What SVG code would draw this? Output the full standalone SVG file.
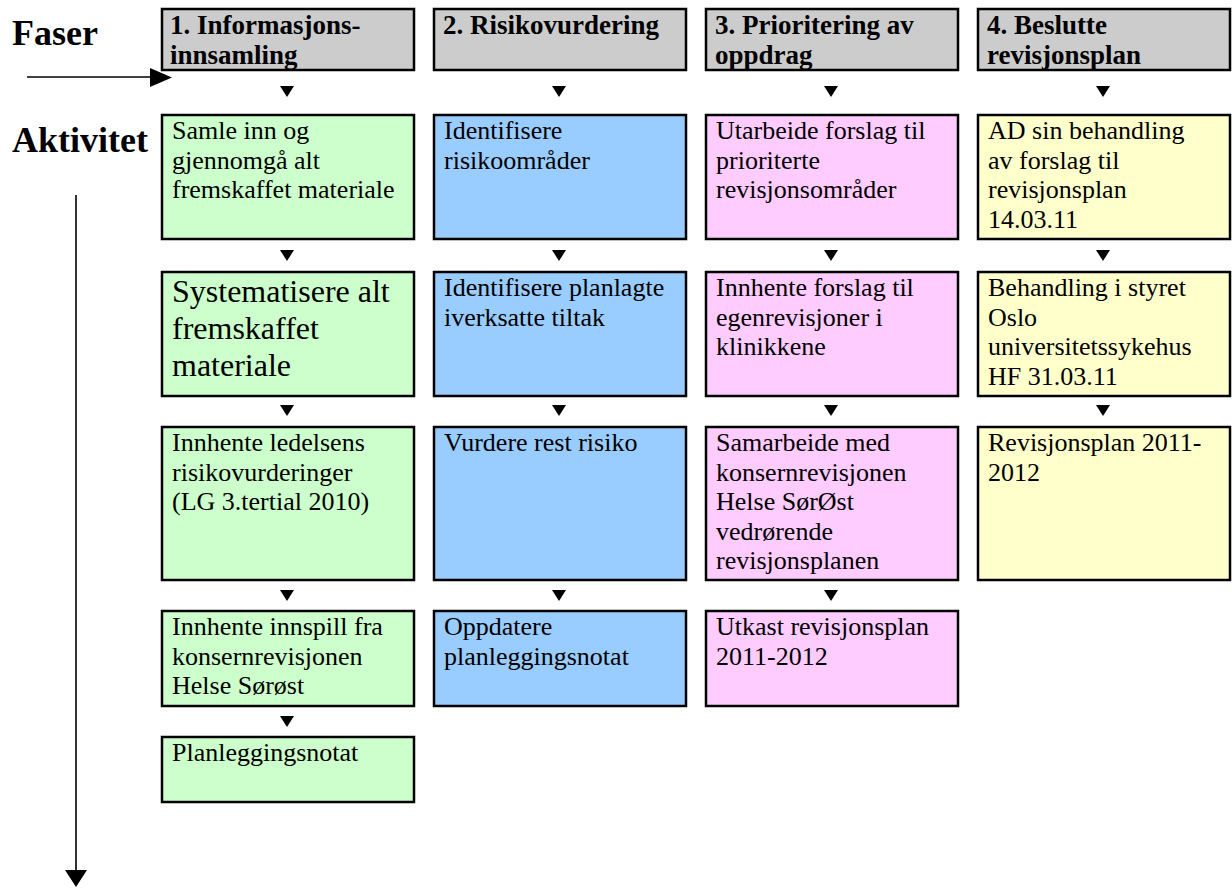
<svg xmlns="http://www.w3.org/2000/svg" width="1232" height="888" viewBox="0 0 1232 888">
<style>
.box{stroke:#000;stroke-width:2.5}
.hdr{fill:#cccccc}
.g{fill:#ccffcc}
.b{fill:#99ccff}
.p{fill:#ffccff}
.y{fill:#ffffcc}
text{font-family:"Liberation Serif","Times New Roman",serif;fill:#000}
.ht{font-size:27px;font-weight:bold}
.t{font-size:26px}
.big{font-size:32px}
.lab{font-size:36px;font-weight:bold}
.tri{fill:#000}
.ln{stroke:#000;stroke-width:1.6;fill:none}
</style>
<rect width="1232" height="888" fill="#fff"/>
<text class="lab" x="12" y="45">Faser</text>
<text class="lab" x="12" y="152">Aktivitet</text>

<g id="h1"><rect class="box hdr" x="162" y="9" width="252" height="61"/><text class="ht" x="170" y="34">1. Informasjons-</text><text class="ht" x="170" y="64">innsamling</text></g>
<g id="h2"><rect class="box hdr" x="434" y="9" width="252" height="61"/><text class="ht" x="443" y="34">2. Risikovurdering</text></g>
<g id="h3"><rect class="box hdr" x="706" y="9" width="252" height="61"/><text class="ht" x="715" y="34">3. Prioritering av</text><text class="ht" x="715" y="64">oppdrag</text></g>
<g id="h4"><rect class="box hdr" x="978" y="9" width="252" height="61"/><text class="ht" x="987" y="34">4. Beslutte</text><text class="ht" x="987" y="64">revisjonsplan</text></g>

<g id="a1"><rect class="box g" x="162" y="115" width="252" height="124"/><text class="t" x="172" y="139">Samle inn og</text><text class="t" x="172" y="168.5">gjennomgå alt</text><text class="t" x="172" y="198">fremskaffet materiale</text></g>
<g id="a2"><rect class="box g" x="162" y="272" width="252" height="124"/><text class="big" x="172" y="302">Systematisere alt</text><text class="big" x="172" y="339">fremskaffet</text><text class="big" x="172" y="376">materiale</text></g>
<g id="a3"><rect class="box g" x="162" y="427" width="252" height="153"/><text class="t" x="172" y="451">Innhente ledelsens</text><text class="t" x="172" y="480.5">risikovurderinger</text><text class="t" x="172" y="510">(LG 3.tertial 2010)</text></g>
<g id="a4"><rect class="box g" x="162" y="611" width="252" height="95"/><text class="t" x="172" y="635">Innhente innspill fra</text><text class="t" x="172" y="664.5">konsernrevisjonen</text><text class="t" x="172" y="694">Helse Sørøst</text></g>
<g id="a5"><rect class="box g" x="162" y="737" width="252" height="65"/><text class="t" x="172" y="761">Planleggingsnotat</text></g>

<g id="b1"><rect class="box b" x="434" y="115" width="252" height="124"/><text class="t" x="444" y="139">Identifisere</text><text class="t" x="444" y="168.5">risikoområder</text></g>
<g id="b2"><rect class="box b" x="434" y="272" width="252" height="124"/><text class="t" x="444" y="296">Identifisere planlagte</text><text class="t" x="444" y="325.5">iverksatte tiltak</text></g>
<g id="b3"><rect class="box b" x="434" y="427" width="252" height="153"/><text class="t" x="444" y="451">Vurdere rest risiko</text></g>
<g id="b4"><rect class="box b" x="434" y="611" width="252" height="95"/><text class="t" x="444" y="635">Oppdatere</text><text class="t" x="444" y="664.5">planleggingsnotat</text></g>

<g id="c1"><rect class="box p" x="706" y="115" width="252" height="124"/><text class="t" x="716" y="139">Utarbeide forslag til</text><text class="t" x="716" y="168.5">prioriterte</text><text class="t" x="716" y="198">revisjonsområder</text></g>
<g id="c2"><rect class="box p" x="706" y="272" width="252" height="124"/><text class="t" x="716" y="296">Innhente forslag til</text><text class="t" x="716" y="325.5">egenrevisjoner i</text><text class="t" x="716" y="355">klinikkene</text></g>
<g id="c3"><rect class="box p" x="706" y="427" width="252" height="153"/><text class="t" x="716" y="451">Samarbeide med</text><text class="t" x="716" y="480.5">konsernrevisjonen</text><text class="t" x="716" y="510">Helse SørØst</text><text class="t" x="716" y="539.5">vedrørende</text><text class="t" x="716" y="569">revisjonsplanen</text></g>
<g id="c4"><rect class="box p" x="706" y="611" width="252" height="95"/><text class="t" x="716" y="635">Utkast revisjonsplan</text><text class="t" x="716" y="664.5">2011-2012</text></g>

<g id="d1"><rect class="box y" x="978" y="115" width="252" height="124"/><text class="t" x="988" y="139">AD sin behandling</text><text class="t" x="988" y="168.5">av forslag til</text><text class="t" x="988" y="198">revisjonsplan</text><text class="t" x="988" y="227.5">14.03.11</text></g>
<g id="d2"><rect class="box y" x="978" y="272" width="252" height="124"/><text class="t" x="988" y="296">Behandling i styret</text><text class="t" x="988" y="325.5">Oslo</text><text class="t" x="988" y="355">universitetssykehus</text><text class="t" x="988" y="384.5">HF 31.03.11</text></g>
<g id="d3"><rect class="box y" x="978" y="427" width="252" height="153"/><text class="t" x="988" y="451">Revisjonsplan 2011-</text><text class="t" x="988" y="480.5">2012</text></g>

<g id="connectors">
<line class="ln" x1="27" y1="77" x2="152" y2="77"/>
<polygon class="tri" points="150,68 172,77.5 150,87"/>
<line class="ln" x1="76" y1="195" x2="76" y2="872"/>
<polygon class="tri" points="65,870 87,870 76,887"/>
<g id="col1tri">
<polygon class="tri" points="280,86 294,86 287,97"/>
<polygon class="tri" points="280,250 294,250 287,261"/>
<polygon class="tri" points="280,405 294,405 287,416"/>
<polygon class="tri" points="280,590 294,590 287,601"/>
<polygon class="tri" points="280,716 294,716 287,727"/>
</g>
<g id="col2tri">
<polygon class="tri" points="552,86 566,86 559,97"/>
<polygon class="tri" points="552,250 566,250 559,261"/>
<polygon class="tri" points="552,405 566,405 559,416"/>
<polygon class="tri" points="552,590 566,590 559,601"/>
</g>
<g id="col3tri">
<polygon class="tri" points="824,86 838,86 831,97"/>
<polygon class="tri" points="824,250 838,250 831,261"/>
<polygon class="tri" points="824,405 838,405 831,416"/>
<polygon class="tri" points="824,590 838,590 831,601"/>
</g>
<g id="col4tri">
<polygon class="tri" points="1096,86 1110,86 1103,97"/>
<polygon class="tri" points="1096,250 1110,250 1103,261"/>
<polygon class="tri" points="1096,405 1110,405 1103,416"/>
</g>
</g>
</svg>
